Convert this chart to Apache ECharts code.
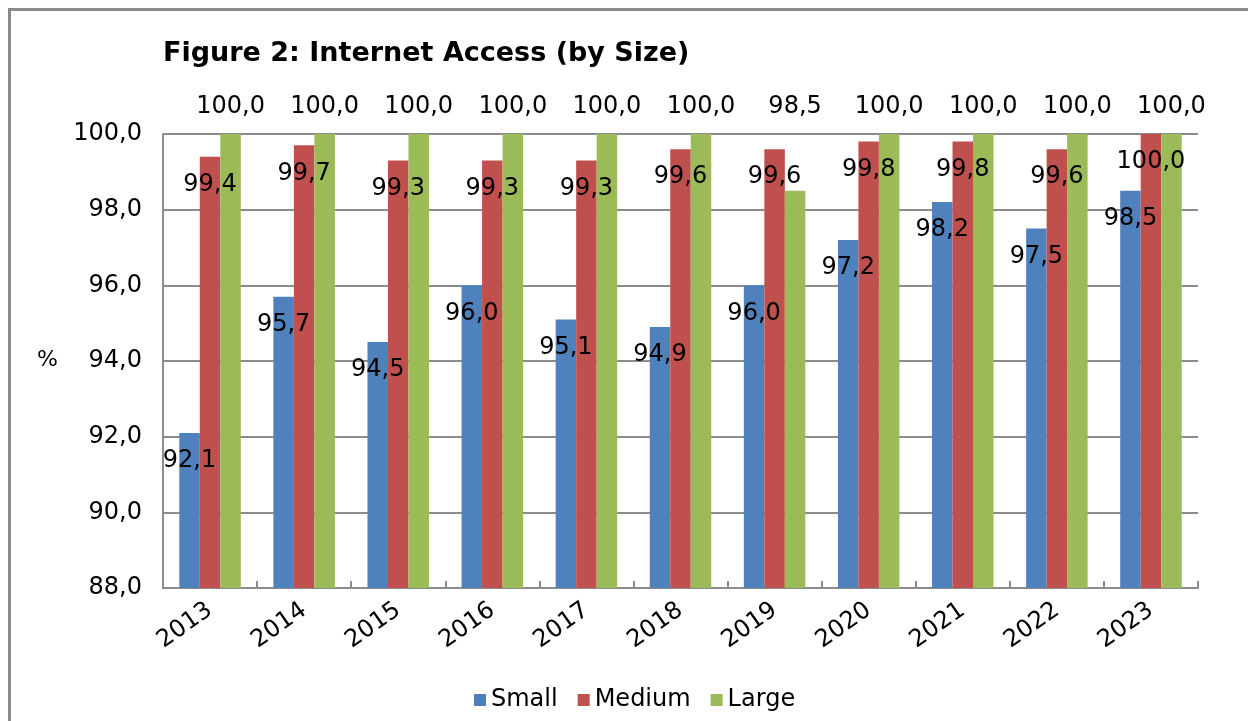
<!DOCTYPE html>
<html>
<head>
<meta charset="utf-8">
<script src="https://cdn.jsdelivr.net/npm/echarts@6/dist/echarts.min.js"></script>
<style>
  html, body { margin: 0; padding: 0; background: #fff; }
  #wrap { position: relative; width: 1248px; height: 721px; overflow: hidden; background: #fff; }
  #frame { position: absolute; left: 8px; top: 8px; width: 1300px; height: 800px;
           border-left: 3px solid #8a8a8a; border-top: 3px solid #8a8a8a; box-sizing: border-box; }
  #chart { position: absolute; left: 0; top: 0; width: 1248px; height: 721px; }
</style>
</head>
<body>
<div id="wrap">
  <div id="frame"></div>
  <div id="chart"></div>
</div>
<script>
const categories = ['2013','2014','2015','2016','2017','2018','2019','2020','2021','2022','2023'];
const small  = [92.1, 95.7, 94.5, 96.0, 95.1, 94.9, 96.0, 97.2, 98.2, 97.5, 98.5];
const medium = [99.4, 99.7, 99.3, 99.3, 99.3, 99.6, 99.6, 99.8, 99.8, 99.6, 100.0];
const large  = [100.0, 100.0, 100.0, 100.0, 100.0, 100.0, 98.5, 100.0, 100.0, 100.0, 100.0];
const seriesNames = ['Small', 'Medium', 'Large'];
const yTicks = { min: 88, max: 100, interval: 2 };

const FONT = 'DejaVu Sans';
const GRID_TOP = 134;
const fmt = v => Number(v).toFixed(1).replace('.', ',');
const gridColor = '#8c8c8c';

const chart = echarts.init(document.getElementById('chart'), null, { renderer: 'canvas' });

const labelBase = { show: true, color: '#000', fontFamily: FONT, fontSize: 24,
  formatter: p => fmt(p.value) };

chart.setOption({
  animation: false,
  title: {
    text: 'Figure 2: Internet Access (by Size)',
    left: 158, top: 35,
    textStyle: { fontFamily: FONT, fontWeight: 'bold', fontSize: 27, color: '#000' }
  },
  legend: {
    data: seriesNames,
    left: 469, top: 683,
    itemWidth: 12, itemHeight: 12, itemGap: 20,
    icon: 'rect',
    textStyle: { fontFamily: FONT, fontSize: 24, color: '#000' }
  },
  graphic: [{
    type: 'text', left: 37, top: 349,
    style: { text: '%', font: '22px "DejaVu Sans"', fill: '#000' }
  }],
  grid: { left: 163, right: 50, top: GRID_TOP, bottom: 133, containLabel: false },
  xAxis: {
    type: 'category',
    data: categories,
    axisLine: { show: true, lineStyle: { color: gridColor, width: 2 } },
    axisTick: { show: true, inside: true, length: 7, lineStyle: { color: gridColor, width: 2 } },
    axisLabel: { rotate: 35, margin: 20, fontFamily: FONT, fontSize: 24, color: '#000' }
  },
  yAxis: {
    type: 'value',
    min: yTicks.min, max: yTicks.max, interval: yTicks.interval,
    axisLine: { show: true, lineStyle: { color: gridColor, width: 2 } },
    axisTick: { show: false },
    splitLine: { show: true, lineStyle: { color: gridColor, width: 2 } },
    axisLabel: { margin: 21, fontFamily: FONT, fontSize: 24, color: '#000', formatter: v => fmt(v) }
  },
  series: [
    { name: 'Small', type: 'bar', data: small, barWidth: 20.5, barGap: '0%',
      itemStyle: { color: '#4F81BD' },
      label: Object.assign({}, labelBase, { position: 'insideTop', distance: 16 }) },
    { name: 'Medium', type: 'bar', data: medium, barWidth: 20.5, barGap: '0%',
      itemStyle: { color: '#C0504D' },
      label: Object.assign({}, labelBase, { position: 'insideTop', distance: 16 }) },
    { name: 'Large', type: 'bar', data: large, barWidth: 20.5, barGap: '0%',
      itemStyle: { color: '#9BBB59' },
      label: Object.assign({}, labelBase, { position: 'top' }),
      labelLayout: () => ({ y: GRID_TOP - 27, align: 'center', verticalAlign: 'middle' }) }
  ]
});
</script>
</body>
</html>
